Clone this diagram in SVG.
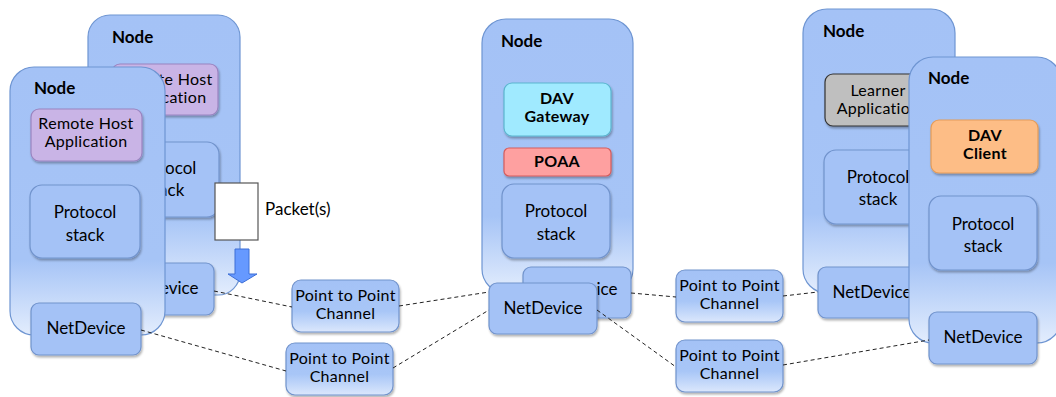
<svg xmlns="http://www.w3.org/2000/svg" width="1056" height="397" viewBox="0 0 1056 397">
<defs>
<linearGradient id="gNode" x1="0" y1="0" x2="0" y2="1">
<stop offset="0" stop-color="#a4c2f6"/>
<stop offset="0.72" stop-color="#a6c4f6"/>
<stop offset="1" stop-color="#e3edfd"/>
</linearGradient>
<linearGradient id="gChan" x1="0" y1="0" x2="0" y2="1">
<stop offset="0" stop-color="#a4c2f6"/>
<stop offset="0.6" stop-color="#a8c6f7"/>
<stop offset="1" stop-color="#dbe7fc"/>
</linearGradient>
<filter id="sh" x="-10%" y="-10%" width="130%" height="130%">
<feDropShadow dx="1" dy="2" stdDeviation="1.2" flood-color="#000" flood-opacity="0.3"/>
</filter>
<clipPath id="clipMidBack">
<rect x="597" y="262" width="40" height="60"/>
</clipPath>
</defs>
<style>
.node{fill:url(#gNode);stroke:#6e95d2;stroke-width:1.2}
.box{fill:#a4c2f6;stroke:#7193cc;stroke-width:1.2;filter:url(#sh)}
.chan{fill:url(#gChan);stroke:#7193cc;stroke-width:1.2;filter:url(#sh)}
.gw{fill:#a0eaff;stroke:#5bb5cf;stroke-width:1.2;filter:url(#sh)}
.poaa{fill:#fea0a0;stroke:#d55c5c;stroke-width:1.2;filter:url(#sh)}
.cli{fill:#fdbd86;stroke:#e59c58;stroke-width:1.2;filter:url(#sh)}
.lrn{fill:#bfbfbf;stroke:#333;stroke-width:1.2;filter:url(#sh)}
.rha{fill:#c9b4e6;stroke:#9a84c0;stroke-width:1.2;filter:url(#sh)}
text{font-family:Lato,"Open Sans",sans-serif;fill:#000}
.t{font-size:17px;text-anchor:middle}
.t2{font-size:16px;text-anchor:middle;letter-spacing:0.3px}
.nl{font-size:17px;font-weight:bold}
.b{font-size:16px;font-weight:bold;text-anchor:middle;letter-spacing:0.3px}
.dash{fill:none;stroke:#222;stroke-width:1;stroke-dasharray:4 3}
</style>

<g id="node-left-back">
<rect class="node" x="88" y="15" width="152" height="280" rx="22"/>
<text class="nl" x="112" y="43">Node</text>
<rect class="rha" x="112" y="64" width="106" height="51" rx="8"/>
<text class="t2" x="165" y="85">Remote Host</text>
<text class="t2" x="165" y="103">Application</text>
<rect class="box" x="110" y="142" width="109" height="75" rx="12"/>
<text class="t" x="165" y="174">Protocol</text>
<text class="t" x="165" y="196">stack</text>
<rect class="box" x="104" y="263" width="110" height="52" rx="8"/>
<text class="t" x="159" y="294">NetDevice</text>
</g>

<g id="node-left-front">
<rect class="node" x="10" y="67" width="155" height="268" rx="24"/>
<text class="nl" x="34" y="94">Node</text>
<rect class="rha" x="31" y="109" width="111" height="52" rx="8"/>
<text class="t2" x="86" y="129">Remote Host</text>
<text class="t2" x="86" y="147">Application</text>
<rect class="box" x="30" y="185" width="110" height="73" rx="12"/>
<text class="t" x="85" y="218">Protocol</text>
<text class="t" x="85" y="241">stack</text>
<rect class="box" x="31" y="303" width="110" height="52" rx="8"/>
<text class="t" x="86" y="334">NetDevice</text>
</g>

<g id="packet">
<rect x="215" y="183" width="43" height="57" fill="#fff" stroke="#555" stroke-width="1.2"/>
<text x="265" y="215" style="font-size:17px">Packet(s)</text>
<path d="M235,249 H249 V274 H257 L242,283 L228,274 H235 Z" fill="#6699ff" stroke="#3d6ed6" stroke-width="1"/>
</g>

<g id="node-middle">
<rect class="node" x="482" y="19" width="151" height="274" rx="24"/>
<text class="nl" x="501" y="47">Node</text>
<rect class="gw" x="504" y="83" width="107" height="53" rx="8"/>
<text class="b" x="557" y="104">DAV</text>
<text class="b" x="557" y="122">Gateway</text>
<rect class="poaa" x="504" y="148" width="107" height="28" rx="5"/>
<text class="b" x="557" y="167">POAA</text>
<rect class="box" x="502" y="184" width="108" height="74" rx="12"/>
<text class="t" x="556" y="217">Protocol</text>
<text class="t" x="556" y="240">stack</text>
<rect class="box" x="523" y="267" width="108" height="51" rx="8"/>
<text class="t" x="578" y="295" clip-path="url(#clipMidBack)">NetDevice</text>
<rect class="box" x="489" y="283" width="108" height="51" rx="8"/>
<text class="t" x="543" y="314">NetDevice</text>
</g>

<g id="node-right-back">
<rect class="node" x="803" y="9" width="152" height="284" rx="24"/>
<text class="nl" x="823" y="37">Node</text>
<rect class="lrn" x="825" y="74" width="107" height="52" rx="8"/>
<text class="t2" x="878" y="96">Learner</text>
<text class="t2" x="878" y="114">Application</text>
<rect class="box" x="824" y="150" width="108" height="74" rx="12"/>
<text class="t" x="878" y="183">Protocol</text>
<text class="t" x="878" y="205">stack</text>
<rect class="box" x="818" y="267" width="108" height="51" rx="8"/>
<text class="t" x="872" y="298">NetDevice</text>
</g>

<g id="node-right-front">
<rect class="node" x="909" y="57" width="152" height="286" rx="24"/>
<text class="nl" x="928" y="84">Node</text>
<rect class="cli" x="931" y="120" width="107" height="53" rx="8"/>
<text class="b" x="985" y="141">DAV</text>
<text class="b" x="985" y="159">Client</text>
<rect class="box" x="929" y="196" width="108" height="74" rx="12"/>
<text class="t" x="983" y="230">Protocol</text>
<text class="t" x="983" y="252">stack</text>
<rect class="box" x="929" y="312" width="108" height="52" rx="8"/>
<text class="t" x="983" y="343">NetDevice</text>
</g>

<g id="channel-1">
<rect class="chan" x="292" y="280" width="107" height="52" rx="9"/>
<text class="t2" x="345.5" y="301">Point to Point</text>
<text class="t2" x="345.5" y="319">Channel</text>
</g>
<g id="channel-2">
<rect class="chan" x="286" y="343" width="107" height="52" rx="9"/>
<text class="t2" x="339.5" y="364">Point to Point</text>
<text class="t2" x="339.5" y="382">Channel</text>
</g>
<g id="channel-3">
<rect class="chan" x="676" y="270" width="107" height="52" rx="9"/>
<text class="t2" x="729.5" y="291">Point to Point</text>
<text class="t2" x="729.5" y="309">Channel</text>
</g>
<g id="channel-4">
<rect class="chan" x="676" y="340" width="107" height="52" rx="9"/>
<text class="t2" x="729.5" y="361">Point to Point</text>
<text class="t2" x="729.5" y="379">Channel</text>
</g>

<g id="connectors">
<path class="dash" d="M214,291 L292,307"/>
<path class="dash" d="M399,306 L489,292"/>
<path class="dash" d="M141,330 L286,371"/>
<path class="dash" d="M393,368 L489,310"/>
<path class="dash" d="M631,293 L676,297"/>
<path class="dash" d="M783,296 L818,292"/>
<path class="dash" d="M597,310 L676,367"/>
<path class="dash" d="M783,365 L929,340"/>
</g>
</svg>
